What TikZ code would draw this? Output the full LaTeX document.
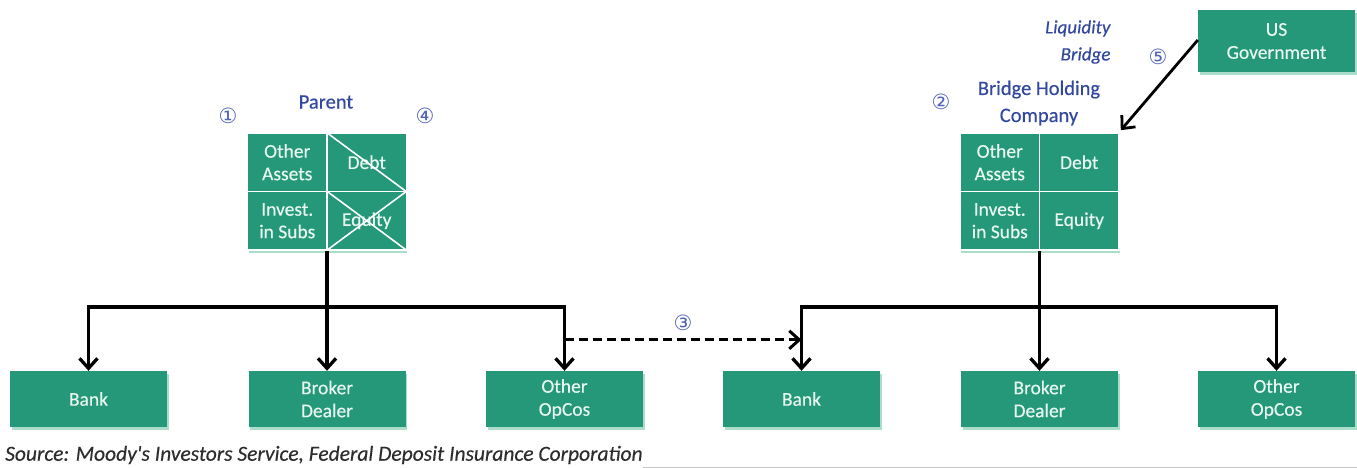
\documentclass[tikz,border=0pt]{standalone}
\usepackage{fontspec}
\setmainfont{Carlito}
\newfontfamily\dv{DejaVu Sans}
\newfontfamily\semib{Carlito}[FakeBold=0.35]
\newfontfamily\semibit{Carlito Italic}[FakeBold=0.25]
\usetikzlibrary{arrows.meta,shadows}
\definecolor{gr}{RGB}{36,152,120}
\definecolor{grlight}{RGB}{170,222,202}
\definecolor{boxtxt}{RGB}{232,248,240}
\definecolor{bluet}{RGB}{50,72,160}
\definecolor{bluec}{RGB}{80,100,185}
\definecolor{srcgray}{RGB}{45,45,45}
\begin{document}
\begin{tikzpicture}[x=1pt,y=-1pt,
  box/.style={fill=gr, text=boxtxt, minimum width=157pt, minimum height=56pt,
    align=center, inner sep=0pt, font=\semib\fontsize{19.5}{23}\selectfont,
    drop shadow={shadow xshift=1.5pt, shadow yshift=-3pt, fill=grlight, opacity=1}},
  cell/.style={fill=gr, text=boxtxt, draw=white, line width=1.6pt,
    minimum width=79.5pt, minimum height=58.5pt, align=center, inner sep=0pt,
    font=\semib\fontsize{19.5}{22.5}\selectfont},
  lbl/.style={text=bluet, align=center, font=\semib\fontsize{20.5}{27}\selectfont},
  circ/.style={text=bluec, font=\dv\fontsize{21}{21}\selectfont, inner sep=0pt},
  conn/.style={line width=3.3pt},
  arr/.style={line width=3.3pt, -{Straight Barb[length=10pt,width=18pt]}},
  darr/.style={line width=3pt, dash pattern=on 9pt off 5pt, -{Straight Barb[length=10pt,width=18pt]}},
  garr/.style={line width=2.8pt, -{Straight Barb[length=10pt,width=18pt]}},
  strike/.style={white, line width=1.6pt}
]
\useasboundingbox[fill=white] (0,0) rectangle (1357,468);

% bottom row boxes
\node[box] (b1) at (88.5,399) {Bank};
\node[box] (b2) at (327,399) {Broker\\Dealer};
\node[box] (b3) at (564.5,399) {Other\\OpCos};
\node[box] (b4) at (801.5,399) {Bank};
\node[box] (b5) at (1039.5,399) {Broker\\Dealer};
\node[box] (b6) at (1276.5,399) {Other\\OpCos};

% US Government
\node[box, minimum height=62pt] (gov) at (1276.5,41) {US\\Government};

% Parent grid
\fill[grlight] (249,250) rectangle (407,253);
\node[cell] (pOA) at (287.25,162.25) {Other\\Assets};
\node[cell] (pD)  at (366.75,162.25) {Debt};
\node[cell] (pIS) at (287.25,220.75) {Invest.\\in Subs};
\node[cell] (pE)  at (366.75,220.75) {Equity};
\draw[strike] (pD.north west) -- (pD.south east);
\draw[strike] (pE.north west) -- (pE.south east);
\draw[strike] (pE.south west) -- (pE.north east);

% Bridge grid
\fill[grlight] (961,250) rectangle (1120,253);
\node[cell] (bOA) at (999.75,162.25) {Other\\Assets};
\node[cell] (bD)  at (1079.25,162.25) {Debt};
\node[cell] (bIS) at (999.75,220.75) {Invest.\\in Subs};
\node[cell] (bE)  at (1079.25,220.75) {Equity};

% labels
\node[lbl] (lpar) at (326,102) {Parent};
\node[lbl] (lbhc) at (1039,103) {Bridge Holding\\Company};
\node[lbl, align=right, anchor=east, font=\semibit\fontsize{19}{27}\selectfont] (lliq) at (1114,42) {Liquidity\\Bridge};
\node[circ] (c1) at (228,116) {①};
\node[circ] (c4) at (425,116) {④};
\node[circ] (c2) at (941,102) {②};
\node[circ] (c5) at (1158,57) {⑤};
\node[circ] (c3) at (683,323) {③};

% connectors left
\coordinate (pj) at (327,307);
\draw[conn] (pj) -- (pj |- pIS.south);
\draw[arr] (pj) -| (b1.north);
\draw[arr] (pj) -| (b3.north);
\draw[arr] (pj) -- (b2.north);

% connectors right
\coordinate (bj) at (1039.5,307);
\draw[conn] (bj) -- (bj |- bIS.south);
\draw[arr] (bj) -| (b4.north);
\draw[arr] (bj) -| (b6.north);
\draw[arr] (bj) -- (b5.north);

% dashed transfer
\draw[darr] ([yshift=31pt]b3.north) -- ([yshift=31pt]b4.north);

% government liquidity
\draw[garr] ([yshift=1pt]gov.west) -- ([shift={(1pt,2pt)}]bD.north east);

% source
\node[anchor=west, text=srcgray, inner sep=0pt, font=\semibit\fontsize{21.5}{21.5}\selectfont] (src) at (5,455) {Source: Moody's Investors Service, Federal Deposit Insurance Corporation};
\draw[gray!45, line width=1pt] (643,467) -- (1357,467);
\end{tikzpicture}
\end{document}
